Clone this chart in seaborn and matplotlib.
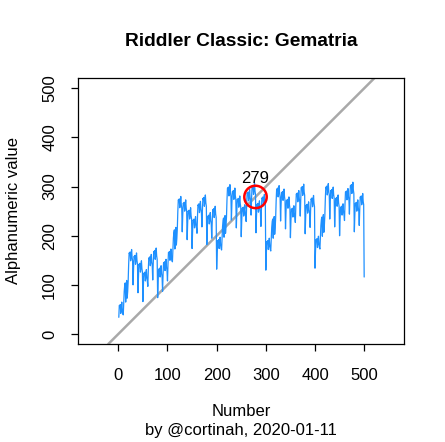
# Riddler Classic: Gematria - alphanumeric value of the spelled-out numbers 1..500
import pandas as pd
import matplotlib
matplotlib.use('Agg')
import matplotlib.pyplot as plt
import seaborn as sns

# Number words (the chart's source data)
ones_words = ['', 'one', 'two', 'three', 'four', 'five', 'six', 'seven', 'eight',
              'nine', 'ten', 'eleven', 'twelve', 'thirteen', 'fourteen', 'fifteen',
              'sixteen', 'seventeen', 'eighteen', 'nineteen']
tens_words = ['', '', 'twenty', 'thirty', 'forty', 'fifty', 'sixty', 'seventy',
              'eighty', 'ninety']
hundred_word = 'hundred'
highlight = 279
title = 'Riddler Classic: Gematria'
x_label = 'Number'
y_label = 'Alphanumeric value'
credit = 'by @cortinah, 2020-01-11'


def spell(n):
    words = []
    if n >= 100:
        words += [ones_words[n // 100], hundred_word]
        n = n % 100
    if n >= 20:
        words += [tens_words[n // 10], ones_words[n % 10]]
    else:
        words.append(ones_words[n])
    return ''.join(words)


def letter_sum(word):
    return sum(ord(c) - 96 for c in word)


numbers = list(range(1, 501))
df = pd.DataFrame({'number': numbers,
                   'value': [letter_sum(spell(n)) for n in numbers]})

sns.set_style('white')
plt.rcParams['font.family'] = ['Liberation Sans', 'DejaVu Sans']
plt.rcParams['text.color'] = 'black'
plt.rcParams['xtick.color'] = 'black'
plt.rcParams['ytick.color'] = 'black'

fig = plt.figure(figsize=(4.45, 4.42), dpi=100)
ax = fig.add_axes([78 / 445, (442 - 344) / 442, (404 - 78) / 445, (344 - 78) / 442])

sns.lineplot(data=df, x='number', y='value', color='#1E90FF', lw=0.9, ax=ax)
ax.axline((0, 0), slope=1, color='#A9A9A9', lw=1.8, zorder=1)
ax.scatter([highlight], [highlight], s=260, facecolors='none', edgecolors='red',
           linewidths=1.8, zorder=3)
ax.text(highlight, highlight + 38, str(highlight), ha='center', va='center', fontsize=12)

ax.set_xlim(-82, 581)
ax.set_ylim(-20.3, 521)
ax.set_xticks([0, 100, 200, 300, 400, 500])
ax.set_yticks([0, 100, 200, 300, 400, 500])
ax.tick_params(direction='out', length=5, width=0.9, colors='black', labelsize=12,
               bottom=True, left=True)
ax.tick_params(axis='x', pad=12)
ax.tick_params(axis='y', pad=10)
for lbl in ax.get_yticklabels():
    lbl.set_rotation(90)
    lbl.set_va('center')
for s in ax.spines.values():
    s.set_color('black')
    s.set_linewidth(0.9)
ax.set_xlabel('')
ax.set_ylabel('')

fig.text(241 / 445, 1 - 41 / 442, title, ha='center', va='center', fontsize=13.8,
         fontweight='bold')
fig.text(241 / 445, 1 - 411 / 442, x_label, ha='center', va='center', fontsize=12)
fig.text(241 / 445, 1 - 430 / 442, credit, ha='center', va='center', fontsize=12)
fig.text(14 / 445, 1 - 211 / 442, y_label, ha='center', va='center', fontsize=12,
         rotation=90)

fig.savefig('out.png', dpi=100)
